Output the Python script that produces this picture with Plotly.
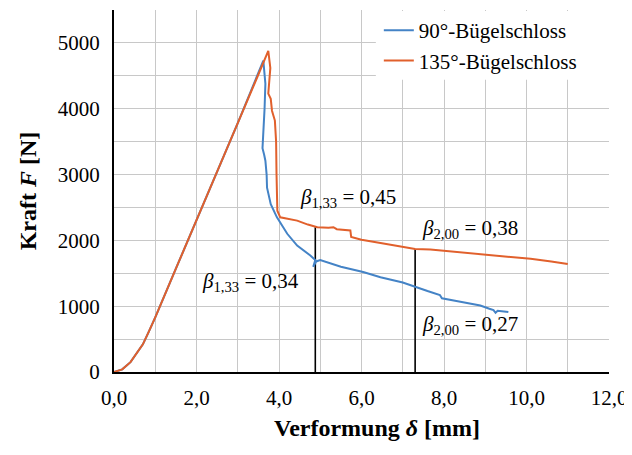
import plotly.graph_objects as go

# 135° series
x135 = [0, 0.2, 0.4, 0.55, 0.7, 0.85, 1.0, 1.5, 2.0, 2.5, 3.0, 3.5, 3.74, 3.79, 3.76, 3.74, 3.8, 3.83, 3.9,
        3.93, 3.94, 3.95, 3.96, 4.03, 4.2, 4.44, 4.7, 4.93, 5.2, 5.32, 5.4, 5.73, 5.75, 6.0, 6.46, 7.0,
        7.3, 7.67, 8.2, 8.88, 9.5, 10.1, 10.6, 11.0]
y135 = [0, 40, 150, 280, 420, 620, 830, 1570, 2300, 3040, 3780, 4520, 4880, 4620, 4400, 4230, 4150, 3970, 3820,
        3500, 3000, 2600, 2450, 2350, 2330, 2300, 2240, 2200, 2190, 2200, 2170, 2150, 2050, 2010, 1960, 1900,
        1870, 1860, 1830, 1800, 1760, 1720, 1680, 1640]

# 90° series
x90 = [0, 0.2, 0.4, 0.55, 0.7, 0.85, 1.0, 1.5, 2.0, 2.5, 3.0, 3.62, 3.64, 3.67, 3.65, 3.63, 3.62, 3.6, 3.64,
       3.67, 3.7, 3.71, 3.8, 3.95, 4.2, 4.44, 4.76, 4.88, 4.83, 4.9, 5.0, 5.5, 6.04, 6.46, 7.0, 7.3, 7.6, 7.9,
       7.95, 8.3, 8.88, 9.1, 9.2, 9.25, 9.3, 9.56]
y90 = [0, 40, 150, 280, 420, 620, 830, 1570, 2300, 3040, 3780, 4730, 4550, 4380, 4000, 3700, 3470, 3400, 3300,
       3210, 3000, 2800, 2550, 2350, 2100, 1920, 1770, 1700, 1600, 1680, 1700, 1600, 1520, 1440, 1360, 1290, 1230,
       1170, 1120, 1080, 1010, 960, 940, 900, 930, 910]

# vertical marker lines (x position, top value)
mark_x = [4.88, 7.3]
mark_top = [2200, 1870]

# annotation texts and positions
ann_text = ["<i>β</i><sub>1,33</sub> = 0,45", "<i>β</i><sub>1,33</sub> = 0,34",
            "<i>β</i><sub>2,00</sub> = 0,38", "<i>β</i><sub>2,00</sub> = 0,27"]
ann_x = [4.45, 2.09, 7.43, 7.43]
ann_y = [2640, 1360, 2180, 710]

xtick_vals = [0, 2, 4, 6, 8, 10, 12]
xtick_text = ["0,0", "2,0", "4,0", "6,0", "8,0", "10,0", "12,0"]
ytick_vals = [0, 1000, 2000, 3000, 4000, 5000]
ytick_text = ["0", "1000", "2000", "3000", "4000", "5000"]

x_title = "<b>Verformung <i>δ</i> [mm]</b>"
y_title = "<b>Kraft <i>F</i> [N]</b>"

BLUE = "#4483c6"
ORANGE = "#e1602c"
FONT = "Times New Roman"

fig = go.Figure()
for mx, mt in zip(mark_x, mark_top):
    fig.add_trace(go.Scatter(x=[mx, mx], y=[0, mt], mode="lines",
                             line=dict(color="black", width=1.6), showlegend=False, hoverinfo="skip"))
fig.add_trace(go.Scatter(x=x90, y=y90, mode="lines", name="90°-Bügelschloss",
                         line=dict(color=BLUE, width=2)))
fig.add_trace(go.Scatter(x=x135, y=y135, mode="lines", name="135°-Bügelschloss",
                         line=dict(color=ORANGE, width=2)))

for t, ax_, ay_ in zip(ann_text, ann_x, ann_y):
    fig.add_annotation(x=ax_, y=ay_, text=t, showarrow=False, xanchor="left", yanchor="middle",
                       font=dict(family=FONT, size=21, color="black"))

# x-axis title
fig.add_annotation(xref="paper", yref="paper", x=0.531, y=-0.112, text=x_title, showarrow=False,
                   xanchor="center", yanchor="top", font=dict(family=FONT, size=24, color="black"))

# white background panel behind legend
fig.add_shape(type="rect", xref="paper", yref="paper", x0=0.529, x1=1.0, y0=0.807, y1=0.997,
              fillcolor="white", line=dict(width=0), layer="above")

fig.update_layout(
    width=624, height=447,
    margin=dict(l=106, r=23, t=2, b=83),
    paper_bgcolor="white", plot_bgcolor="white",
    font=dict(family=FONT, size=21, color="black"),
    showlegend=True,
    legend=dict(x=0.535, y=1, xanchor="left", yanchor="top", bgcolor="rgba(0,0,0,0)",
                borderwidth=0, font=dict(family=FONT, size=21),
                tracegroupgap=0, itemwidth=30),
)
fig.update_xaxes(range=[0, 12], tickvals=xtick_vals, ticktext=xtick_text, automargin=False,
                 showgrid=True, gridcolor="#c8c8c8", gridwidth=1,
                 minor=dict(dtick=1, showgrid=True, gridcolor="#c8c8c8", gridwidth=1),
                 showline=True, linecolor="black", linewidth=2, zeroline=False, ticks="",
                 ticklabelstandoff=6,
                 tickfont=dict(family=FONT, size=21))
fig.update_yaxes(range=[0, 5500], tickvals=ytick_vals, ticktext=ytick_text, automargin=False,
                 showgrid=True, gridcolor="#c8c8c8", gridwidth=1,
                 minor=dict(dtick=500, showgrid=True, gridcolor="#c8c8c8", gridwidth=1),
                 showline=True, linecolor="black", linewidth=2, zeroline=False, ticks="",
                 ticklabelstandoff=8,
                 title=dict(text=y_title, font=dict(family=FONT, size=24), standoff=14),
                 tickfont=dict(family=FONT, size=21))

fig.write_html("out.html")
